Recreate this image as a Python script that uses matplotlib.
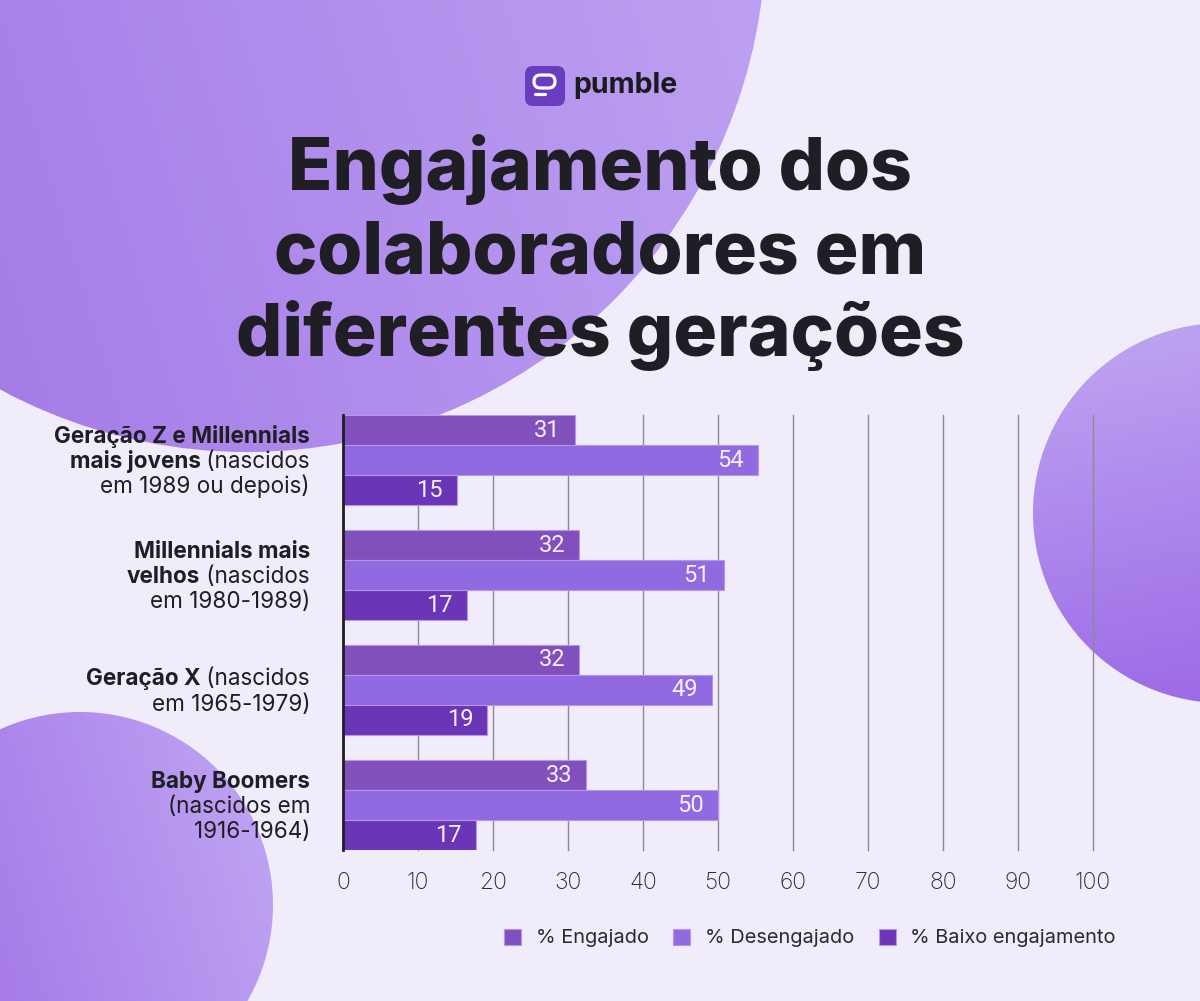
import numpy as np
import matplotlib
matplotlib.use("Agg")
import matplotlib.pyplot as plt
from matplotlib.colors import LinearSegmentedColormap
from matplotlib.patches import Circle, FancyBboxPatch

# ---- data ----
series_names = ["% Engajado", "% Desengajado", "% Baixo engajamento"]
engajado = [31, 32, 32, 33]
desengajado = [54, 51, 49, 50]
baixo = [15, 17, 19, 17]
# bar lengths as drawn (labels are rounded values)
engajado_len = [30.9, 31.5, 31.5, 32.4]
desengajado_len = [55.3, 50.8, 49.2, 50.0]
baixo_len = [15.2, 16.5, 19.2, 17.7]
x_ticks = [0, 10, 20, 30, 40, 50, 60, 70, 80, 90, 100]

# category labels: lines of (bold part, regular part)
category_lines = [
    [("Geração Z e Millennials", ""), ("mais jovens", " (nascidos"), ("", "em 1989 ou depois)")],
    [("Millennials mais", ""), ("velhos", " (nascidos"), ("", "em 1980-1989)")],
    [("Geração X", " (nascidos"), ("", "em 1965-1979)")],
    [("Baby Boomers", ""), ("", "(nascidos em"), ("", "1916-1964)")],
]

title_lines = ["Engajamento dos", "colaboradores em", "diferentes gerações"]

BG = "#f0ecf9"
TEXT = "#1e1e24"
COLORS = ["#8150bd", "#9169e0", "#6b35b8"]
FONT = "Inter"

W, H = 1200, 1001
fig = plt.figure(figsize=(W / 100, H / 100), dpi=100, facecolor=BG)

# background canvas in pixel coordinates (y down)
bg = fig.add_axes([0, 0, 1, 1], zorder=0)
bg.set_xlim(0, W)
bg.set_ylim(H, 0)
bg.axis("off")


def gradient_circle(cx, cy, r, c1, c2, direction):
    n = 300
    xs = np.linspace(-1, 1, n)
    gx, gy = np.meshgrid(xs, xs)
    dx, dy = direction
    t = (gx * dx + gy * dy) / np.hypot(dx, dy)
    t = (t + 1) / 2
    cmap = LinearSegmentedColormap.from_list("g", [c1, c2])
    im = bg.imshow(t, cmap=cmap, vmin=0, vmax=1, origin="upper",
                   extent=(cx - r, cx + r, cy + r, cy - r), zorder=1,
                   interpolation="bilinear")
    clip = Circle((cx, cy), r, transform=bg.transData)
    im.set_clip_path(clip)


gradient_circle(247, -67, 519, "#a277e6", "#bea2f2", (1, -0.3))
gradient_circle(1223, 513, 190, "#bda2f1", "#9c69e6", (0.2, 1))
gradient_circle(80, 905, 193, "#a070e6", "#bda1f2", (1, -0.3))
bg.set_xlim(0, W)
bg.set_ylim(H, 0)

# logo
bg.add_patch(FancyBboxPatch((525, 66), 40, 40, boxstyle="round,pad=0,rounding_size=8",
                            fc="#6a3dc0", ec="none", zorder=3))
bg.add_patch(FancyBboxPatch((534, 75), 21, 13, boxstyle="round,pad=0,rounding_size=6.5",
                            fc="none", ec="white", lw=2.3, zorder=4))
bg.plot([535, 545], [94, 94], color="white", lw=2.3, solid_capstyle="round", zorder=4)
bg.text(573, 93, "pumble", fontsize=20.5, fontweight="bold", family=FONT,
        color="#1b1b1f", va="baseline", ha="left", zorder=4)

# title
for k, line in enumerate(title_lines):
    bg.text(600, 190 + 83 * k, line, fontsize=52.5, fontweight="heavy", family=FONT,
            color=TEXT, ha="center", va="baseline", zorder=4)

# ---- chart ----
ax = fig.add_axes([343 / W, 151 / H, 750 / W, 435 / H], zorder=2)
ax.patch.set_alpha(0)

n = len(engajado)
h = 30 / 115
y = np.arange(n)
lengths = [engajado_len, desengajado_len, baixo_len]
labels = [engajado, desengajado, baixo]
containers = []
for j in range(3):
    ypos = y + (j - 1) * h
    bars = ax.barh(ypos, lengths[j], height=h, color=COLORS[j], edgecolor="#b596ea",
                   linewidth=0.8, label=series_names[j], zorder=3)
    containers.append(bars)
    for yy, ln, lb in zip(ypos, lengths[j], labels[j]):
        ax.annotate(str(lb), xy=(ln, yy), xytext=(-10, 0), textcoords="offset points",
                    ha="right", va="center", fontsize=17, family="Roboto",
                    color="#f4f0fb", zorder=4)

ax.set_xlim(0, 100)
ax.set_ylim(n - 1 + 1.5 * h, -1.5 * h)
ax.set_xticks(x_ticks)
ax.set_yticks([])
ax.grid(axis="x", color="#8e8998", linewidth=1)
for gl in ax.get_xgridlines():
    gl.set_clip_on(False)
ax.set_axisbelow(True)
for s in ["top", "right", "bottom"]:
    ax.spines[s].set_visible(False)
ax.spines["left"].set_color(TEXT)
ax.spines["left"].set_linewidth(2)
ax.spines["left"].set_zorder(5)
ax.tick_params(axis="x", length=0, pad=16, labelsize=16.5, labelcolor="#2a2a30")
for lbl in ax.get_xticklabels():
    lbl.set_family(FONT)
    lbl.set_fontweight("light")

# category labels, bold + regular on the same line
LBL_SIZE = 16.2
for i, lines in enumerate(category_lines):
    m = len(lines)
    for k, (bold, regular) in enumerate(lines):
        dy_px = 8 + (k - (m - 1) / 2) * 25
        off = (-33 * 0.72, -dy_px * 0.72)
        anchor_kw = dict(xy=(0, i), xycoords="data", xytext=off, textcoords="offset points")
        if regular:
            reg = ax.annotate(regular, ha="right", va="baseline", fontsize=LBL_SIZE, family=FONT,
                              color=TEXT, annotation_clip=False, **anchor_kw)
            if bold:
                ax.annotate(bold, xy=(0, i), xycoords=(reg, "data"), xytext=(0, off[1]),
                            textcoords="offset points", ha="right", va="baseline",
                            fontsize=LBL_SIZE, fontweight="bold", family=FONT, color=TEXT,
                            annotation_clip=False)
        else:
            ax.annotate(bold, ha="right", va="baseline", fontsize=LBL_SIZE, fontweight="bold",
                        family=FONT, color=TEXT, annotation_clip=False, **anchor_kw)

# legend
fig.legend(handles=containers, labels=series_names, loc="center right",
           bbox_to_anchor=(1116 / W, 1 - 938 / H), ncol=3, frameon=False,
           borderpad=0, borderaxespad=0,
           prop={"family": FONT, "size": 14.4}, labelcolor="#2a2a30",
           handlelength=0.85, handleheight=0.85, handletextpad=0.75, columnspacing=1.2)

fig.savefig("out.png", dpi=100, facecolor=BG)
